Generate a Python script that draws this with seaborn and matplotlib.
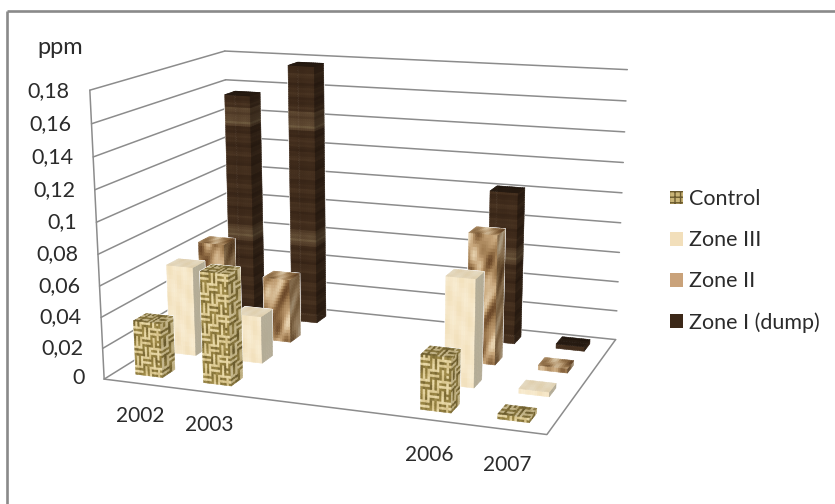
import numpy as np
import matplotlib
matplotlib.use("Agg")
import matplotlib.pyplot as plt
from matplotlib.lines import Line2D
from matplotlib.patches import Patch
from mpl_toolkits.mplot3d.art3d import Poly3DCollection
import seaborn as sns

# Concentrations in ppm per year and zone
years = [2002, 2003, 2004, 2005, 2006, 2007]
shown_years = [2002, 2003, 2006, 2007]
control = [0.035, 0.071, 0.034, 0.003]
zone_3 = [0.059, 0.031, 0.069, 0.003]
zone_2 = [0.063, 0.043, 0.085, 0.003]
zone_1 = [0.155, 0.177, 0.102, 0.003]
series_names = ["Control", "Zone III", "Zone II", "Zone I (dump)"]
y_ticks = [0, 0.02, 0.04, 0.06, 0.08, 0.1, 0.12, 0.14, 0.16, 0.18]
y_tick_labels = ["0", "0,02", "0,04", "0,06", "0,08", "0,1", "0,12", "0,14", "0,16", "0,18"]

W, H = 835, 504
FONT = "Lato"
TEXT = "#2b2b2b"
GRID = "#8c8c8c"
BAR_W = 0.40
BAR_D = 0.36

sns.set_theme(style="white")
plt.rcParams["font.family"] = [FONT, "DejaVu Sans"]

fig = plt.figure(figsize=(W / 100, H / 100), dpi=100, facecolor="white")
ax = fig.add_axes([0, 0, 1, 1], projection="3d", computed_zorder=False, proj_type="ortho")
ax.apply_aspect = lambda position=None: None
ax.set_axis_off()

x_max, y_max, z_max = float(len(years)), 4.0, y_ticks[-1]

# Surface materials, one colour ramp per zone
weave_ramp = sns.blend_palette(["#5c4d26", "#94803f", "#c9b272", "#e9d9a8"], as_cmap=True)
cream_ramp = sns.blend_palette(["#efdcb4", "#f6e7c8", "#faf0d8"], as_cmap=True)
marble_ramp = sns.blend_palette(["#6a4728", "#98744a", "#c4a277", "#e8d3b0"], as_cmap=True)
wood_ramp = sns.blend_palette(["#2f1e12", "#45301f", "#5c4630", "#8d7c58"], as_cmap=True)


def weave(i, j):
    block = 4
    wob = np.sin(i * 1.3 + j * 0.7) * np.cos(j * 0.43 - i * 0.9)
    horizontal = ((i // block) + (j // block) + (i // 11)) % 2 == 0
    strand = np.where(horizontal, j % 2, i % 2)
    return np.clip(0.62 * strand + 0.3 + 0.14 * wob, 0, 1)


def cream(i, j):
    return 0.5 + 0.3 * np.sin(i * 0.9 + j * 0.37) * np.cos(j * 0.53 - i * 0.4)


def marble(i, j):
    v = (np.sin(i * 0.47 + 2.4 * np.sin(j * 0.21)) + np.cos(j * 0.33 + 1.9 * np.sin(i * 0.39))
         + 0.5 * np.sin(i * 1.1 - j * 0.8))
    return np.clip(0.5 + 0.22 * v, 0, 1)


def wood(i, j):
    v = 0.26 + 0.09 * np.sin(j * 0.9) + 0.06 * np.sin(j * 2.3 + 1.0)
    streak = (np.sin(j * 0.19 + 0.7) * np.sin(j * 0.053) > 0.72) * 0.38
    return np.clip(v + streak + 0.02 * np.sin(i * 0.8), 0, 1)


materials = [
    (weave, weave_ramp, 0.0016, 1.0, 0.85, 0.85),
    (cream, cream_ramp, 0.0030, 1.0, 0.72, 0.92),
    (marble, marble_ramp, 0.0022, 1.0, 0.72, 0.92),
    (wood, wood_ramp, 0.0016, 1.0, 0.68, 0.55),
]
base_colors = ["#c9b477", "#f5e6c6", "#c7a67c", "#3c2818"]
cream_side = "#b4ad98"


def draw_face(origin, du, dv, nu, nv, material, shade, side, zorder, tint=None):
    tex, ramp = material[0], material[1]
    jj, ii = np.meshgrid(np.arange(nv), np.arange(nu), indexing="ij")
    ii, jj = ii.ravel(), jj.ravel()
    o, du, dv = np.asarray(origin, float), np.asarray(du, float) / nu, np.asarray(dv, float) / nv
    corners = []
    for a, b in ((0, 0), (1, 0), (1, 1), (0, 1)):
        corners.append(o + np.outer(ii + a, du) + np.outer(jj + b, dv))
    polys = np.stack(corners, axis=1)
    rgb = ramp(tex(ii + side * 37, jj))[:, :3] * shade
    if tint is not None:
        rgb = 0.2 * rgb + 0.8 * np.array(matplotlib.colors.to_rgb(tint))
    col = Poly3DCollection(polys, facecolors=rgb, edgecolors=rgb, linewidths=0.35, zsort="average")
    col.set_zorder(zorder)
    ax.add_collection3d(col)


# Walls and floor
for v in y_ticks:
    ax.plot([0, 0], [0, y_max], [v, v], color=GRID, lw=1.1, zorder=1)
    ax.plot([0, x_max], [y_max, y_max], [v, v], color=GRID, lw=1.1, zorder=1)
ax.plot([0, 0], [0, 0], [0, z_max], color=GRID, lw=1.1, zorder=1)
ax.plot([0, x_max, x_max], [0, 0, y_max], [0, 0, 0], color=GRID, lw=1.1, zorder=1)

# Bars, painted from the back row forward and left to right within a row
table = [control, zone_3, zone_2, zone_1]
for s in range(3, -1, -1):
    mat = materials[s]
    for c, year in enumerate(shown_years):
        h = table[s][c]
        x0 = years.index(year) + 0.5 - BAR_W / 2
        y0 = s + 0.5 - BAR_D / 2
        z = 10 + (3 - s) * 10 + c
        body = ax.bar3d(x0, y0, 0, BAR_W, BAR_D, h, color=base_colors[s], shade=False, zorder=z)
        body.set_zorder(z)
        nv = max(1, int(round(h / mat[2])))
        draw_face((x0, y0, 0), (BAR_W, 0, 0), (0, 0, h), 13, nv, mat, mat[3], 0, z + 0.1)
        draw_face((x0 + BAR_W, y0, 0), (0, BAR_D, 0), (0, 0, h), 5, nv, mat, mat[4], 1, z + 0.2,
                  tint=cream_side if s == 1 else None)
        draw_face((x0, y0, h), (BAR_W, 0, 0), (0, BAR_D, 0), 13, 5, mat, mat[5], 2, z + 0.3)

# Perspective camera solved from where the box corners land on the canvas
world = np.array([
    [0, 0, 0], [x_max, 0, 0], [x_max, y_max, 0], [0, y_max, 0],
    [0, 0, z_max], [0, y_max, z_max], [x_max, y_max, z_max],
])
canvas = np.array([
    [103, 377], [548, 436], [615, 338], [232, 302],
    [90, 91], [225, 50], [627, 70],
], float)
canvas[:, 1] = H - canvas[:, 1]
target = ax.transData.inverted().transform(canvas)
rows = []
for (X, Y, Z), (u, v) in zip(world, target):
    rows.append([X, Y, Z, 1, 0, 0, 0, 0, -u * X, -u * Y, -u * Z, -u])
    rows.append([0, 0, 0, 0, X, Y, Z, 1, -v * X, -v * Y, -v * Z, -v])
P = np.linalg.svd(np.array(rows))[2][-1].reshape(3, 4)
P = P / P[2, 3]
camera = np.array([P[0], P[1], [0, -1, 0, 0], P[2]])
ax.get_proj = lambda: camera


def to_figure(x, y, z):
    p = P @ np.array([x, y, z, 1.0])
    disp = ax.transData.transform(p[:2] / p[2])
    return fig.transFigure.inverted().transform(disp)


# Axis text placed through the same camera
for v, lab in zip(y_ticks, y_tick_labels):
    fx, fy = to_figure(-0.29, 0, v - 0.001)
    fig.text(fx, fy, lab, ha="right", va="center", fontsize=15.5, color=TEXT)
for year in shown_years:
    fx, fy = to_figure(years.index(year) + 0.52, 0, -0.0215)
    fig.text(fx, fy, str(year), ha="center", va="center", fontsize=15, color=TEXT)
fig.text(37 / W, 1 - 48 / H, "ppm", ha="left", va="center", fontsize=17, color=TEXT)

# Legend
handles = [
    Patch(facecolor="#c9b477", edgecolor="#6b5a2e", hatch="+++", lw=0),
    Patch(facecolor="#f2dfbb", edgecolor="none"),
    Patch(facecolor="#c9a27a", edgecolor="none"),
    Patch(facecolor="#3c2818", edgecolor="none"),
]
fig.legend(handles, series_names, loc="center left", bbox_to_anchor=(670 / W, 1 - 261 / H),
           frameon=False, fontsize=15.5, handlelength=0.62, handleheight=0.62,
           handletextpad=0.28, labelspacing=0.98, labelcolor=TEXT, borderpad=0, borderaxespad=0)

# Chart frame: only its top and left edges fall inside the canvas
frame = dict(color="#8a8a8a", lw=1.9, transform=fig.transFigure, solid_capstyle="butt")
fig.add_artist(Line2D([7 / W, 1], [1 - 11 / H, 1 - 11 / H], **frame))
fig.add_artist(Line2D([7 / W, 7 / W], [1 - 11 / H, 0], **frame))

fig.savefig("out.png", dpi=100)
